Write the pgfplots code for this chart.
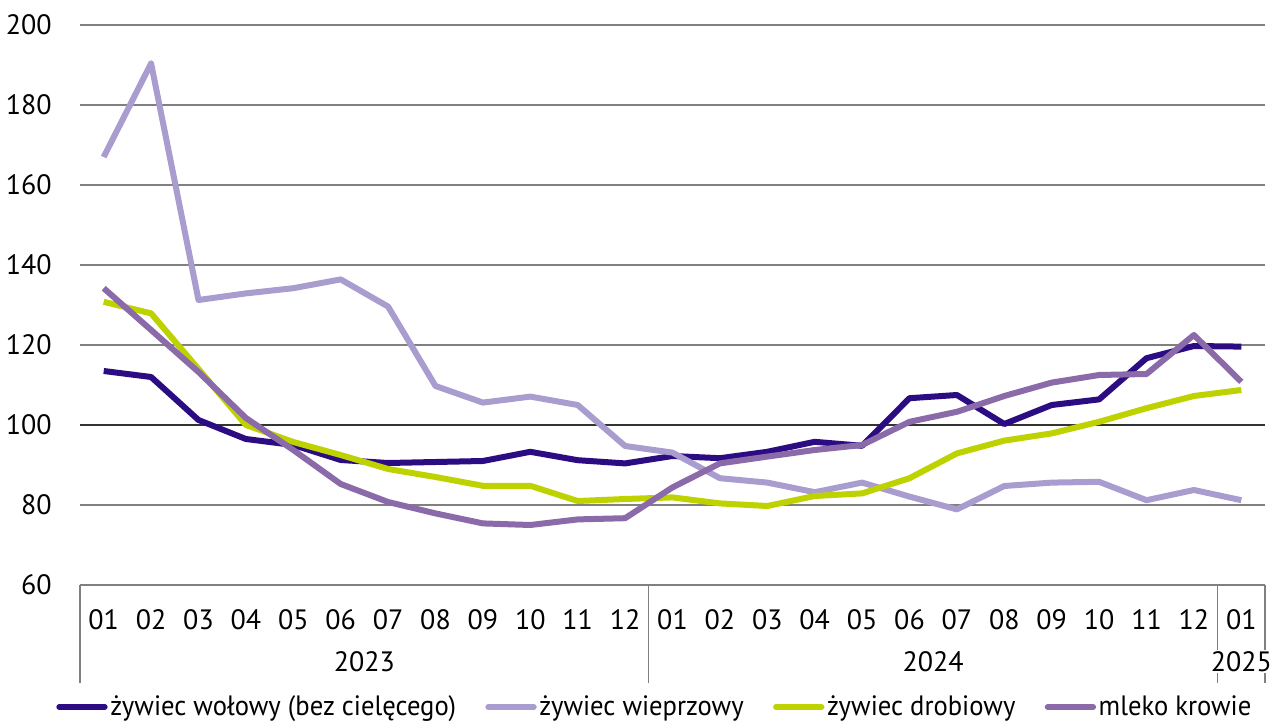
\documentclass[border=0pt]{standalone}
\usepackage{pgfplots}
\pgfplotsset{compat=1.18}
\usepackage{fontspec}
\setmainfont{PT Sans}
\newfontfamily\legfont[FakeStretch=0.95]{PT Sans}
\definecolor{cNavy}{RGB}{43,12,130}
\definecolor{cLav}{RGB}{169,156,206}
\definecolor{cGreen}{RGB}{190,210,0}
\definecolor{cPurp}{RGB}{139,106,170}
\definecolor{cGrid}{RGB}{128,128,128}
\newcommand{\lbl}{\fontsize{21}{25}\selectfont}
\begin{document}
\begin{tikzpicture}
\path[use as bounding box] (-60pt,-105pt) rectangle (897.75pt,438.75pt);
\begin{axis}[
  at={(0,0)}, anchor=south west,
  scale only axis, width=888.75pt, height=420pt,
  xmin=-0.5, xmax=24.5, ymin=60, ymax=200,
  axis line style={draw=none},
  xtick pos=bottom, ytick pos=left,
  ytick={60,80,120,140,160,180,200},
  extra y ticks={100},
  extra y tick style={grid=major, major grid style={draw=black!80, line width=1pt}},
  ymajorgrids, major grid style={draw=cGrid, line width=1pt},
  major tick length=0pt,
  /pgf/number format/assume math mode=true,
  yticklabel style={font=\lbl, anchor=east, inner sep=0pt, xshift=-21pt},
  xtick={0,...,24},
  xticklabels={01,02,03,04,05,06,07,08,09,10,11,12,01,02,03,04,05,06,07,08,09,10,11,12,01},
  xticklabel style={font=\lbl, anchor=north, inner sep=0pt, yshift=-18pt},
  extra x ticks={-0.5,11.5,23.5,24.5},
  extra x tick labels={},
  extra x tick style={major tick length=73.5pt, tick align=outside, xtick pos=bottom, xmajorgrids=false, tick style={draw=cGrid, line width=1pt}},
  clip=false,
  legend columns=4,
  legend style={at={(axis description cs:0.5,0)}, anchor=center, xshift=-13pt, yshift=-91.5pt, draw=none, font=\lbl\legfont, inner sep=0pt,
    /tikz/every even column/.append style={column sep=20pt}},
  legend image code/.code={\draw[#1, line width=4.5pt, line cap=round] (2pt,0pt) -- (36pt,0pt);},
  every axis plot/.append style={line width=4.5pt, line join=round, mark=none},
]
\addplot[cNavy] coordinates {(0,113.5)(1,112)(2,101.25)(3,96.5)(4,95)(5,91.25)(6,90.5)(7,90.75)(8,91)(9,93.3)(10,91.2)(11,90.4)(12,92.25)(13,91.7)(14,93.3)(15,95.8)(16,94.8)(17,106.7)(18,107.5)(19,100.25)(20,105)(21,106.4)(22,116.7)(23,119.75)(24,119.6)};
\addlegendentry{żywiec wołowy (bez cielęcego)}
\addplot[cLav] coordinates {(0,167)(1,190.4)(2,131.25)(3,132.9)(4,134.2)(5,136.4)(6,129.6)(7,109.75)(8,105.6)(9,107.1)(10,105)(11,94.75)(12,93.1)(13,86.7)(14,85.6)(15,83.2)(16,85.6)(17,82.1)(18,78.9)(19,84.75)(20,85.6)(21,85.8)(22,81.2)(23,83.75)(24,81.2)};
\addlegendentry{żywiec wieprzowy}
\addplot[cGreen] coordinates {(0,130.8)(1,127.9)(2,114)(3,100)(4,95.75)(5,92.5)(6,89)(7,87)(8,84.8)(9,84.8)(10,81)(11,81.5)(12,81.9)(13,80.4)(14,79.75)(15,82.25)(16,82.9)(17,86.7)(18,92.9)(19,96.1)(20,97.9)(21,100.8)(22,104.2)(23,107.25)(24,108.75)};
\addlegendentry{żywiec drobiowy}
\addplot[cPurp] coordinates {(0,134.2)(1,123.75)(2,113.25)(3,101.75)(4,93.75)(5,85.25)(6,80.75)(7,77.9)(8,75.4)(9,75)(10,76.4)(11,76.7)(12,84.4)(13,90.4)(14,92.1)(15,93.75)(16,95)(17,100.8)(18,103.3)(19,107.25)(20,110.6)(21,112.5)(22,112.75)(23,122.5)(24,110.8)};
\addlegendentry{mleko krowie}
\node[font=\lbl, anchor=north, inner sep=0pt, yshift=-49.5pt] at (axis cs:5.5,60) {2023};
\node[font=\lbl, anchor=north, inner sep=0pt, yshift=-49.5pt] at (axis cs:17.5,60) {2024};
\node[font=\lbl, anchor=north, inner sep=1pt, fill=white, yshift=-48.5pt] at (axis cs:24,60) {2025};
\end{axis}
\end{tikzpicture}
\end{document}
